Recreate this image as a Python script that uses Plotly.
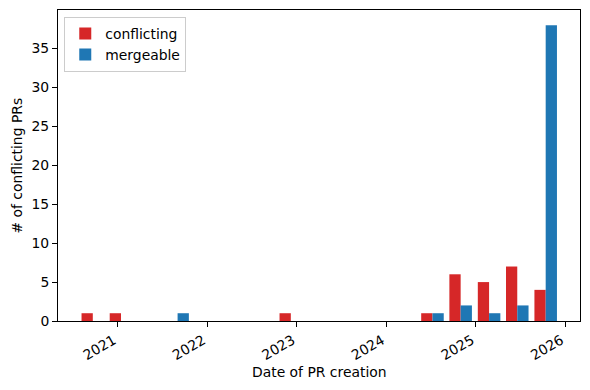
import plotly.graph_objects as go

# Histogram bin centres (dates of PR creation)
bin_centers = [
    "2020-09-21", "2021-01-14", "2021-05-10", "2021-09-02", "2021-12-27",
    "2022-04-21", "2022-08-15", "2022-12-08", "2023-04-03", "2023-07-27",
    "2023-11-20", "2024-03-14", "2024-07-08", "2024-10-31", "2025-02-24",
    "2025-06-19", "2025-10-13",
]
conflicting = [1, 1, 0, 0, 0, 0, 0, 1, 0, 0, 0, 0, 1, 6, 5, 7, 4]
mergeable = [0, 0, 0, 1, 0, 0, 0, 0, 0, 0, 0, 0, 1, 2, 1, 2, 38]

x_tick_vals = ["2021-01-01", "2022-01-01", "2023-01-01", "2024-01-01", "2025-01-01", "2026-01-01"]
x_tick_text = ["2021", "2022", "2023", "2024", "2025", "2026"]
y_tick_vals = [0, 5, 10, 15, 20, 25, 30, 35]

FONT = "DejaVu Sans"
FS = 13.9

fig = go.Figure()
fig.add_trace(go.Bar(x=bin_centers, y=conflicting, name="conflicting",
                     marker=dict(color="#d62728", line=dict(width=0))))
fig.add_trace(go.Bar(x=bin_centers, y=mergeable, name="mergeable",
                     marker=dict(color="#1f77b4", line=dict(width=0))))

fig.update_layout(
    width=590, height=390,
    margin=dict(l=58, r=10, t=10, b=69, autoexpand=False),
    paper_bgcolor="white", plot_bgcolor="white",
    font=dict(family=FONT, size=FS, color="black"),
    barmode="group", bargap=0.2, bargroupgap=0,
    showlegend=True,
    legend=dict(x=0.012, y=0.978, xanchor="left", yanchor="top",
                bgcolor="rgba(255,255,255,0.8)", bordercolor="#cccccc", borderwidth=1,
                font=dict(family=FONT, size=FS), tracegroupgap=0),
    annotations=[
        dict(text="Date of PR creation", xref="paper", yref="paper", x=0.5, y=(390 - 69 - 372) / 311,
             xanchor="center", yanchor="middle", showarrow=False, font=dict(family=FONT, size=FS)),
        dict(text="# of conflicting PRs", xref="paper", yref="paper", x=(16 - 58) / 522, y=0.5,
             xanchor="center", yanchor="middle", textangle=-90, showarrow=False,
             font=dict(family=FONT, size=FS)),
    ],
)
fig.update_xaxes(
    type="date", range=["2020-05-02", "2026-03-02"], automargin=False,
    tickmode="array", tickvals=x_tick_vals, ticktext=x_tick_text, tickangle=-30,
    ticklabelshift=-4,
    ticks="outside", ticklen=5, tickwidth=1, tickcolor="black",
    showline=True, linecolor="black", linewidth=1, mirror=True,
    showgrid=False, zeroline=False,
)
fig.update_yaxes(
    range=[0, 39.95], automargin=False,
    tickmode="array", tickvals=y_tick_vals,
    ticks="outside", ticklen=5, tickwidth=1, tickcolor="black",
    showline=True, linecolor="black", linewidth=1, mirror=True,
    showgrid=False, zeroline=False,
)

fig.write_html("out.html", config={"displayModeBar": False},
               post_script="document.body.style.margin='0';document.body.style.overflow='hidden';")
